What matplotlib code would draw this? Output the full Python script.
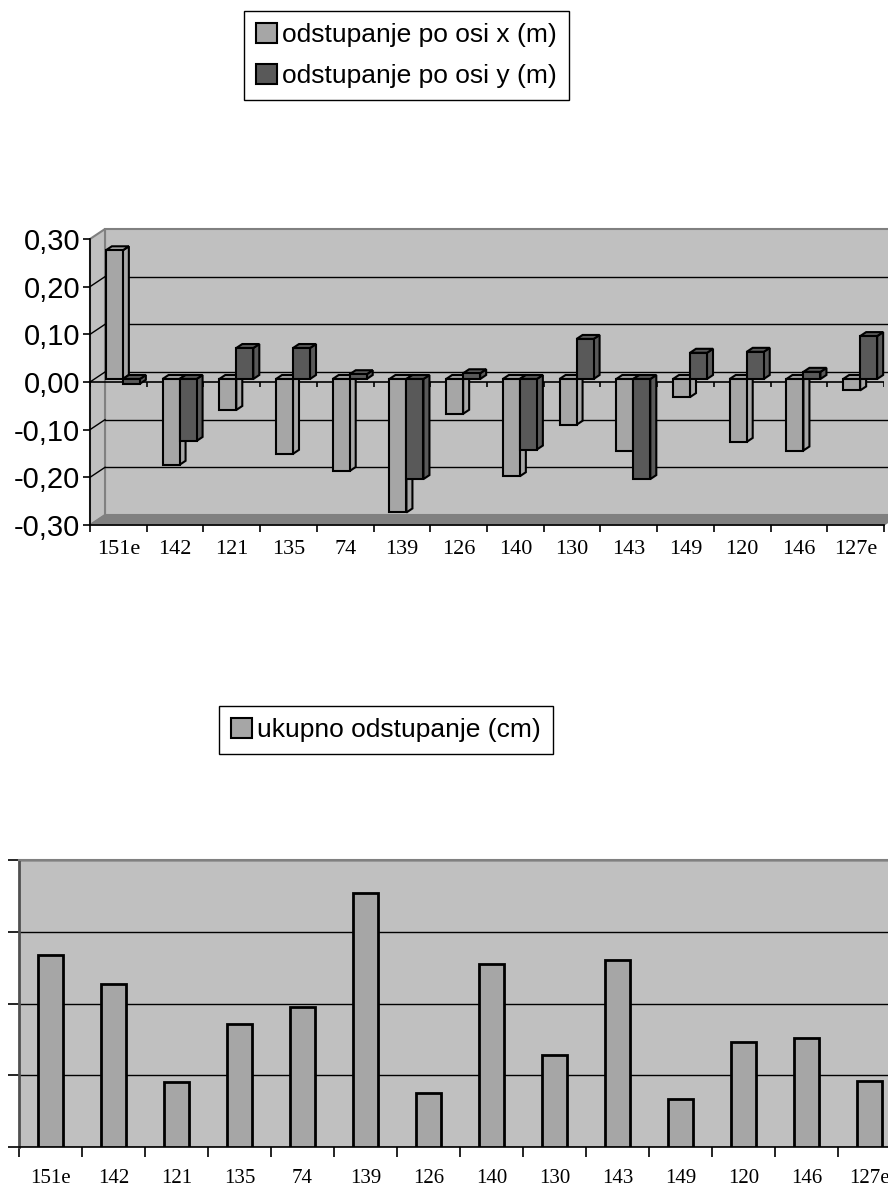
import matplotlib
matplotlib.use('Agg')
import matplotlib.pyplot as plt
from matplotlib.patches import Polygon, Rectangle, Patch

# data
tocke = ['151e', '142', '121', '135', '74', '139', '126', '140', '130', '143', '149', '120', '146', '127e']
dx_m = [0.27, -0.18, -0.065, -0.157, -0.193, -0.28, -0.073, -0.204, -0.096, -0.15, -0.038, -0.132, -0.15, -0.024]
dy_m = [-0.01, -0.13, 0.065, 0.065, 0.01, -0.21, 0.012, -0.148, 0.084, -0.21, 0.055, 0.057, 0.015, 0.09]
ukupno_cm = [26.8, 22.7, 9.0, 17.1, 19.5, 35.4, 7.5, 25.5, 12.8, 26.0, 6.7, 14.6, 15.2, 9.2]
y_ticks = [-0.3, -0.2, -0.1, 0.0, 0.1, 0.2, 0.3]
y_labels = ['-0,30', '-0,20', '-0,10', '0,00', '0,10', '0,20', '0,30']
serije = ['odstupanje po osi x (m)', 'odstupanje po osi y (m)']
serija2 = 'ukupno odstupanje (cm)'

svijetla = '#a6a6a6'
tamna = '#595959'
zid = '#c0c0c0'
rub = '#808080'

W, H = 888, 1187
fig = plt.figure(figsize=(W / 100, H / 100), dpi=100)

# ---------- gornji graf (pseudo 3D) ----------
ax = fig.add_axes([90 / W, 1 - 525 / H, 794 / W, 286 / H])
n = len(tocke)
ax.set_xlim(0, n)
ax.set_ylim(-0.3, 0.3)
ax.patch.set_visible(False)
for s in ['top', 'right', 'left']:
    ax.spines[s].set_visible(False)
ax.spines['bottom'].set_linewidth(1.2)

DX = 15 / (794 / n)     # dubina zida u jedinicama kategorija
DY = 10 / (286 / 0.6)   # dubina zida u jedinicama vrijednosti
ymin, ymax = -0.3, 0.3

# zidovi i pod
ax.add_patch(Polygon([(DX, ymin + DY), (n + DX, ymin + DY), (n + DX, ymax + DY), (DX, ymax + DY)],
                     closed=True, fc=zid, ec=rub, lw=1.5, clip_on=False, zorder=0))
ax.add_patch(Polygon([(0, ymin), (DX, ymin + DY), (DX, ymax + DY), (0, ymax)],
                     closed=True, fc=zid, ec=rub, lw=1.5, clip_on=False, zorder=0))
ax.add_patch(Polygon([(0, ymin), (n, ymin), (n + DX, ymin + DY), (DX, ymin + DY)],
                     closed=True, fc=rub, ec=rub, lw=1, clip_on=False, zorder=0.5))

for v in y_ticks[1:-1]:
    ax.plot([DX, n + DX], [v + DY, v + DY], color='black', lw=1, zorder=1, clip_on=False)
    ax.plot([0, DX], [v, v + DY], color='black', lw=1, zorder=1, clip_on=False)

# os kategorija na nuli
ax.plot([0, n], [0, 0], color='black', lw=1.2, zorder=1.5)
ax.vlines(range(n + 1), -0.011, 0, color='black', lw=1.2, zorder=1.5)
# os vrijednosti
ax.plot([0, 0], [ymin, ymax], color='black', lw=1.2, zorder=1.5, clip_on=False)

# stupci
fa, fb = 0.3, 0.4
w = 0.3
g = 0.2


def stupac(x0, v, boja):
    ox, oy = fa * DX, fa * DY
    bx, by = fb * DX, fb * DY
    x = x0 + ox
    lo, hi = min(0, v) + oy, max(0, v) + oy
    # bocna strana
    ax.add_patch(Polygon([(x + w, lo), (x + w + bx, lo + by), (x + w + bx, hi + by), (x + w, hi)],
                         closed=True, fc=boja, ec='black', lw=1.5, zorder=3, clip_on=False))
    # gornja strana
    ax.add_patch(Polygon([(x, hi), (x + w, hi), (x + w + bx, hi + by), (x + bx, hi + by)],
                         closed=True, fc=boja, ec='black', lw=1.5, zorder=3, clip_on=False))
    # prednja strana
    ax.add_patch(Rectangle((x, lo), w, hi - lo, fc=boja, ec='black', lw=1.5, zorder=3, clip_on=False))


for i in range(n):
    stupac(i + g, dx_m[i], svijetla)
    stupac(i + g + w, dy_m[i], tamna)

ax.set_yticks(y_ticks)
ax.set_yticklabels(y_labels, family='Liberation Sans', fontsize=21)
ax.tick_params(axis='y', length=5, width=1.2, pad=2, left=True)
ax.set_xticks(range(n + 1))
ax.set_xticklabels([])
ax.tick_params(axis='x', which='major', length=5, width=1.2)
ax.set_xticks([i + 0.5 for i in range(n)], minor=True)
ax.set_xticklabels(tocke, minor=True, family='Liberation Serif', fontsize=16)
ax.tick_params(axis='x', which='minor', length=0, pad=11)

h1 = [Patch(fc=svijetla, ec='black', lw=1.5), Patch(fc=tamna, ec='black', lw=1.5)]
leg1 = fig.legend(h1, serije, loc='center', bbox_to_anchor=(406.5 / W, 1 - 55.5 / H),
                  prop={'family': 'Liberation Sans', 'size': 19}, frameon=True, fancybox=False,
                  edgecolor='black', framealpha=1, handlelength=0.8, handleheight=0.8,
                  handletextpad=0.2, labelspacing=0.65, borderpad=0.45, borderaxespad=0)
leg1.get_frame().set_linewidth(1)

# ---------- donji graf ----------
ax2 = fig.add_axes([19 / W, 1 - 1147 / H, 882 / W, 287 / H])
ax2.set_facecolor(zid)
ax2.set_xlim(0, n)
ax2.set_ylim(0, 40)
ax2.bar([i + 0.5 for i in range(n)], ukupno_cm, width=0.41, color=svijetla,
        edgecolor='black', linewidth=2, zorder=3)
ax2.set_yticks([0, 10, 20, 30, 40])
ax2.yaxis.grid(True, color='black', lw=1)
ax2.set_axisbelow(True)
ax2.tick_params(axis='y', length=8, width=1.2, labelleft=False)
ax2.set_xticks(range(n + 1))
ax2.set_xticklabels([])
ax2.tick_params(axis='x', which='major', length=7, width=1.2)
ax2.set_xticks([i + 0.5 for i in range(n)], minor=True)
ax2.set_xticklabels(tocke, minor=True, family='Liberation Serif', fontsize=15)
ax2.tick_params(axis='x', which='minor', length=0, pad=16)
ax2.spines['top'].set_color(rub)
ax2.spines['top'].set_linewidth(1.5)
ax2.spines['left'].set_color('#505050')
ax2.spines['left'].set_linewidth(2)
ax2.spines['bottom'].set_linewidth(1.2)

h2 = [Patch(fc=svijetla, ec='black', lw=1.5)]
leg2 = fig.legend(h2, [serija2], loc='center', bbox_to_anchor=(386 / W, 1 - 730 / H),
                  prop={'family': 'Liberation Sans', 'size': 19}, frameon=True, fancybox=False,
                  edgecolor='black', framealpha=1, handlelength=0.8, handleheight=0.8,
                  handletextpad=0.2, borderpad=0.45, borderaxespad=0)
leg2.get_frame().set_linewidth(1)

fig.savefig('out.png', dpi=100)
